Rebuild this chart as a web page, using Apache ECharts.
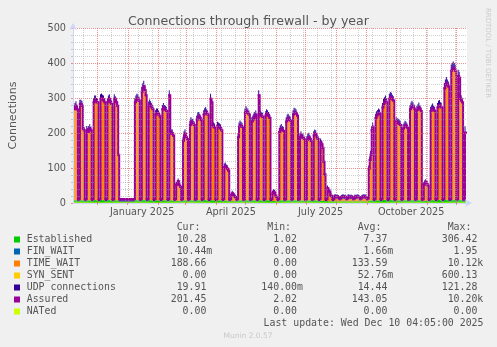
<!DOCTYPE html>
<html>
<head>
<meta charset="utf-8">
<script src="https://cdn.jsdelivr.net/npm/echarts@6.0.0/dist/echarts.min.js"></script>
<style>
html,body{margin:0;padding:0;background:#f0f0f0;overflow:hidden;}
#chart{width:497px;height:347px;}
</style>
</head>
<body>
<div id="chart"></div>
<script>
// ---------------- data (one value per day) ----------------
const established = [
8,9,8,8,4,4,
8,8,9,8,7,4,4, 7,8,8,8,7,4,4, 8,9,9,8,8,4,4, 9,9,8,9,8,4,4, 8,9,9,8,8,4,4, 9,8,8,8,7,4,4,
4,4,4,4,4,4,4, 4,4,4,4,4,4,4,
8,9,9,8,8,4,4, 9,9,10,9,8,4,4, 8,9,8,8,8,4,4, 8,8,8,8,7,4,4, 8,8,8,8,8,4,4, 9,8,8,8,7,4,4,
6,6,6,6,6,4,4, 7,8,8,8,7,4,4, 8,8,8,8,8,4,4, 8,8,8,8,8,4,4, 8,9,9,8,8,4,4, 9,8,8,8,8,4,4,
8,8,8,8,7,4,4, 7,7,7,7,6,4,4, 6,6,6,5,5,4,4, 7,8,8,8,8,4,4, 8,9,8,8,8,4,4, 8,8,8,8,8,4,4,
9,8,8,8,8,4,4, 8,8,8,8,8,4,4, 6,6,6,5,5,4,4, 8,8,8,8,8,4,4, 8,8,8,8,8,4,4, 8,8,8,8,8,4,4,
7,8,7,7,7,4,4, 7,7,8,7,7,4,4, 8,8,8,7,7,4,4, 7,7,7,6,6,4,4, 6,5,5,5,5,4,4,
5,5,5,5,5,4,4, 5,5,5,5,5,4,4, 5,5,5,5,5,4,4, 5,5,5,5,5,4,4, 5,5,5,5,5,4,4,
6,7,7,8,8,4,4, 8,8,8,8,8,4,4, 8,9,9,9,8,4,4, 9,9,9,8,8,4,4, 8,8,8,8,8,4,4, 8,8,8,8,8,4,4,
8,9,9,8,8,4,4, 8,8,9,8,8,4,4, 6,6,6,6,6,4,4, 8,8,9,8,8,4,4, 8,9,9,8,8,4,4, 9,9,10,9,9,4,4,
10,10,10,10,9,4,4, 10,10,9,9,8,4,4,
10];

const timeWait = [
258,263,268,258,1,1,
273,273,268,203,198,1,1, 198,193,198,203,198,1,1, 278,283,283,278,278,1,1, 288,290,286,283,278,1,1,
278,283,288,278,273,1,1, 288,283,278,268,128,0,0,
0,0,0,0,0,0,0, 0,0,0,0,0,0,0,
278,283,288,288,283,1,1, 308,318,323,313,298,1,1, 268,273,268,263,258,1,1, 243,248,248,243,238,1,1,
258,263,258,256,253,1,1, 298,193,188,188,183,1,1, 42,47,52,42,37,1,1, 168,183,188,178,173,1,1,
213,223,218,218,213,1,1, 228,236,238,233,228,1,1, 243,248,250,246,243,1,1, 288,278,213,208,206,1,1,
210,208,206,203,198,1,1, 93,96,90,88,83,1,1, 12,17,14,10,7,1,1, 178,208,213,210,208,1,1,
248,253,250,246,243,1,1, 223,228,233,238,243,1,1, 298,243,240,238,236,1,1, 240,246,243,238,233,1,1,
17,22,20,12,7,1,1, 193,200,203,198,196,1,1, 223,230,233,228,226,1,1, 243,250,248,246,240,1,1,
178,183,178,176,173,1,1, 170,176,178,173,168,1,1, 183,188,186,178,173,1,1, 163,158,148,108,72,1,1,
32,27,22,12,10,1,1,
7,8,6,7,6,3,3, 6,7,8,6,7,3,3, 8,7,6,7,6,3,3, 7,6,7,8,6,3,3, 6,7,8,7,7,3,3,
88,113,128,198,208,1,1, 233,240,243,248,246,1,1, 263,273,278,283,278,1,1, 288,293,290,286,283,1,1,
223,220,218,216,213,1,1, 203,208,213,210,206,1,1, 258,263,268,266,260,1,1, 256,260,263,258,253,1,1,
42,47,50,44,40,1,1, 253,258,260,256,253,1,1, 263,268,270,266,263,1,1, 318,328,333,328,323,1,1,
368,373,376,373,368,1,1, 353,348,288,283,278,1,1,
189];

const udp = [
14,14,15,14,9,9,
14,14,15,14,13,9,9, 15,14,14,14,13,9,9, 14,15,15,14,13,9,9, 14,14,15,15,13,9,9, 14,15,14,14,13,9,9, 14,14,15,14,13,10,10,
10,10,10,10,10,10,10, 10,10,10,10,10,10,10,
14,15,15,14,13,9,9, 15,15,16,15,14,9,9, 14,14,15,14,13,9,9, 14,14,14,14,13,9,9, 14,15,14,14,13,9,9, 15,14,14,14,13,9,9,
12,12,12,12,12,9,9, 14,14,15,14,13,9,9, 14,14,15,14,13,9,9, 14,15,14,14,13,9,9, 14,14,15,14,13,9,9, 15,14,14,14,13,9,9,
14,14,14,14,13,9,9, 13,13,13,13,12,9,9, 12,12,12,12,12,9,9, 14,14,15,14,13,9,9, 14,15,14,14,13,9,9, 14,14,15,14,13,9,9,
15,14,14,14,13,9,9, 14,14,14,14,13,9,9, 12,12,12,12,12,9,9, 14,14,15,14,13,9,9, 14,15,14,14,13,9,9, 14,14,15,14,13,9,9,
14,14,14,14,13,9,9, 14,14,15,14,13,9,9, 14,14,14,14,13,9,9, 14,14,13,13,12,9,9, 12,12,12,12,12,9,9,
12,12,12,12,12,10,10, 12,12,12,12,12,10,10, 12,12,12,12,12,10,10, 12,12,12,12,12,10,10, 12,12,12,12,12,10,10,
13,13,14,14,14,9,9, 14,14,15,14,13,9,9, 15,15,15,15,14,9,9, 15,15,16,15,14,9,9, 14,14,15,14,13,9,9, 14,14,14,14,13,9,9,
14,15,15,14,14,9,9, 14,14,15,14,13,9,9, 12,12,12,12,12,9,9, 14,15,15,14,14,9,9, 15,15,15,14,14,9,9, 16,16,17,16,15,9,9,
18,18,18,17,17,9,9, 18,17,16,16,15,9,9,
20];

const assured = [
268,273,278,268,11,11,
283,283,278,213,208,11,11, 208,203,208,213,208,11,11, 288,293,293,288,288,11,11, 298,300,296,293,288,11,11,
288,293,298,288,283,11,11, 298,293,288,278,138,11,11,
11,11,11,11,11,11,11, 11,11,11,11,11,11,11,
288,293,298,298,293,11,11, 318,328,333,323,308,11,11, 278,283,278,273,268,11,11, 253,258,258,253,248,11,11,
268,273,268,266,263,11,11, 308,203,198,198,193,11,11, 52,57,62,52,47,11,11, 178,193,198,188,183,11,11,
223,233,228,228,223,11,11, 238,246,248,243,238,11,11, 253,258,260,256,253,11,11, 298,288,223,218,216,11,11,
220,218,216,213,208,11,11, 103,106,100,98,93,11,11, 22,27,24,20,17,11,11, 188,218,223,220,218,11,11,
258,263,260,256,253,11,11, 233,238,243,248,253,11,11, 308,253,250,248,246,11,11, 250,256,253,248,243,11,11,
27,32,30,22,17,11,11, 203,210,213,208,206,11,11, 233,240,243,238,236,11,11, 253,260,258,256,250,11,11,
188,193,188,186,183,11,11, 180,186,188,183,178,11,11, 193,198,196,188,183,11,11, 173,168,158,118,82,11,11,
42,37,32,22,20,11,11,
18,18,17,18,17,13,13, 17,18,18,17,18,13,13, 18,18,17,17,18,13,13, 18,17,18,18,17,13,13, 17,18,18,18,17,13,13,
98,123,138,208,218,11,11, 243,250,253,258,256,11,11, 273,283,288,293,288,11,11, 298,303,300,296,293,11,11,
233,230,228,226,223,11,11, 213,218,223,220,216,11,11, 268,273,278,276,270,11,11, 266,270,273,268,263,11,11,
52,57,60,54,50,11,11, 263,268,270,266,263,11,11, 273,278,280,276,273,11,11, 328,338,343,338,333,11,11,
378,383,386,383,378,11,11, 363,358,298,293,288,11,11,
201];

// NATed: 0.00 for the whole year (min = avg = max = 0.00)
const nated = Array(assured.length).fill(0);

// legend table
const legendNames  = ['Established','FIN_WAIT','TIME_WAIT','SYN_SENT','UDP connections','Assured','NATed'];
const legendColors = ['#00CC00','#0066B3','#FF8000','#FFCC00','#330099','#990099','#CCFF00'];
const curValues = ['10.28','10.44m','188.66','0.00','19.91','201.45','0.00'];
const minValues = ['1.02','0.00','0.00','0.00','140.00m','2.02','0.00'];
const avgValues = ['7.37','1.66m','133.59','52.76m','14.44','143.05','0.00'];
const maxValues = ['306.42','1.95','10.12k','600.13','121.28','10.20k','0.00'];
const columnHeaders = ['Cur:','Min:','Avg:','Max:'];

const titleText = 'Connections through firewall - by year';
const yAxisName = 'Connections';
const lastUpdate = 'Last update: Wed Dec 10 04:05:00 2025';
const yTickLabels = [0,100,200,300,400,500];
const xLabelTexts = ['January 2025','April 2025','July 2025','October 2025'];

// ---------------- axis geometry ----------------
const DAY = 86400000;
const SPAN = 400;
const START = Date.UTC(2024,10,6,16,48);
const END = START + SPAN*DAY;
const toDays = t => (t - START) / DAY;
const xLabelAt = [Date.UTC(2025,0,16), Date.UTC(2025,3,16), Date.UTC(2025,6,16), Date.UTC(2025,9,16)];
const monthStarts = [];
for (let y = 2024, m = 11; ; ) {
  const t = Date.UTC(y, m, 1);
  if (t > END) break;
  if (t >= START) monthStarts.push(t);
  m++; if (m > 11) { m = 0; y++; }
}
const minorLines = [];
for (let t = Date.UTC(2024,10,17); t <= END; t += 14*DAY) {
  if (!monthStarts.some(ms => Math.abs(ms - t) < DAY/2)) minorLines.push(t);
}
const yMax = yTickLabels[yTickLabels.length - 1];
const yMajor = yTickLabels.slice(1);
const yMinor = [];
for (let v = 20; v < yMax; v += 20) if (v % 100 !== 0) yMinor.push(v);
const dayTime = j => START + (j + 0.5) * DAY;

const FONT = 'DejaVu Sans';
const MONO = 'DejaVu Sans Mono';
const TXT = '#555555';
const MAJOR = 'rgba(225,100,100,0.7)';
const MINOR = 'rgba(160,160,160,0.5)';

// stacked AREA/STACK drawn as one-pixel day columns (as rrdtool does)
function stackSeries(name, values, color) {
  return {
    name, type: 'bar', stack: 'conn', barWidth: 1, barGap: '-100%',
    data: values.map((v, j) => [dayTime(j), v]),
    itemStyle: { color, borderWidth: 0 },
    z: 3, silent: true, animation: false, large: false
  };
}
// LINE2 drawn as a step line through the day columns: [time, value, next value]
// (strokes centred on pixel centres, like rrdtool's anti-aliased LINE2)
function stepLineSeries(name, values, color, width, z) {
  return {
    name, type: 'custom', coordinateSystem: 'cartesian2d', silent: true, animation: false, z,
    data: values.map((v, j) => [dayTime(j), v, j + 1 < values.length ? values[j + 1] : v]),
    encode: { x: 0, y: 1 },
    dimensions: ['t', 'v', 'next'],
    renderItem: (params, api) => {
      const t = api.value(0);
      const p = api.coord([t, api.value(1)]);
      const pn = api.coord([t, api.value(2)]);
      const hw = api.size([DAY, 0])[0] / 2;
      const ox = 0.5;
      const pts = [[p[0] - hw + ox, p[1]], [p[0] + hw + ox, p[1]], [p[0] + hw + ox, pn[1]]];
      return { type: 'polyline', shape: { points: pts }, style: { stroke: color, lineWidth: width, fill: null, lineJoin: 'miter', lineCap: 'square' } };
    }
  };
}
// dotted grid drawn over the data, as rrdtool does
function gridLineSeries(items, color) {
  return {
    type: 'line', data: [], z: 10, silent: true, animation: false,
    markLine: {
      silent: true, symbol: ['none','none'], label: { show: false }, animation: false, z: 10,
      lineStyle: { color, width: 1, type: [1,1] },
      emphasis: { disabled: true },
      data: items
    }
  };
}

// legend graphic
const CW = 5.96;
const fieldStart = [170.7, 261.3, 351.7, 441.7];
function fmt(s) {
  const m = s.match(/^([\d.]+)([a-z]?)$/);
  return m[1].padStart(6, ' ') + m[2];
}
const graphics = [];
const rowY0 = 239.5, rowH = 12;
columnHeaders.forEach((h, c) => graphics.push({
  type: 'text', x: fieldStart[c] + CW, y: rowY0 - rowH,
  style: { text: h, font: `9.9px "${MONO}"`, fill: TXT, align: 'left', verticalAlign: 'middle' }
}));
legendNames.forEach((n, r) => {
  const y = rowY0 + r * rowH;
  graphics.push({ type: 'rect', shape: { x: 14, y: y - 3, width: 6, height: 6 }, style: { fill: legendColors[r] } });
  graphics.push({ type: 'text', x: 26.7, y, style: { text: n, font: `9.9px "${MONO}"`, fill: TXT, align: 'left', verticalAlign: 'middle' } });
  [curValues, minValues, avgValues, maxValues].forEach((arr, c) => {
    graphics.push({ type: 'text', x: fieldStart[c], y, style: { text: fmt(arr[r]), font: `9.9px "${MONO}"`, fill: TXT, align: 'left', verticalAlign: 'middle' } });
  });
});
graphics.push({ type: 'text', x: 483.5, y: rowY0 + 7 * rowH, style: { text: lastUpdate, font: `9.9px "${MONO}"`, fill: TXT, align: 'right', verticalAlign: 'middle' } });
graphics.push({ type: 'text', x: 248, y: 336, style: { text: 'Munin 2.0.57', font: `7.5px "${FONT}"`, fill: '#c8c8c8', align: 'center', verticalAlign: 'middle' } });
graphics.push({ type: 'text', x: 488, y: 53, rotation: -Math.PI / 2, style: { text: 'RRDTOOL / TOBI OETIKER', font: `7px "${FONT}"`, fill: '#cccccc', align: 'center', verticalAlign: 'middle' } });

const chart = echarts.init(document.getElementById('chart'), null, { renderer: 'canvas' });
chart.setOption({
  animation: false,
  backgroundColor: '#f0f0f0',
  title: {
    text: titleText, left: 'center', top: 10,
    textStyle: { fontFamily: FONT, fontSize: 12.6, fontWeight: 'normal', color: TXT }
  },
  grid: { left: 67, right: 30, top: 28, bottom: 144, show: true, backgroundColor: '#ffffff', borderWidth: 0 },
  xAxis: [
    { // data axis (time), hidden
      type: 'time', min: START, max: END, position: 'bottom', show: false
    },
    { // visible axis in days since the graph start: ticks and labels
      type: 'value', min: 0, max: SPAN, position: 'bottom', z: 11,
      axisLine: { show: true, onZero: false, lineStyle: { color: '#CFD6F8', width: 1 }, symbol: ['none','arrow'], symbolSize: [6,7], symbolOffset: [0,5] },
      axisTick: { show: true, customValues: monthStarts.map(toDays), length: 2, lineStyle: { color: MAJOR } },
      axisLabel: {
        customValues: xLabelAt.map(toDays), margin: 4,
        fontFamily: FONT, fontSize: 9.7, color: TXT,
        formatter: (v) => {
          let best = 0;
          xLabelAt.forEach((t, i) => { if (Math.abs(toDays(t) - v) < Math.abs(toDays(xLabelAt[best]) - v)) best = i; });
          return xLabelTexts[best];
        }
      },
      splitLine: { show: false }
    }
  ],
  yAxis: {
    type: 'value', min: yTickLabels[0], max: yMax, interval: 100, z: 11,
    name: yAxisName, nameLocation: 'middle', nameGap: 54,
    nameTextStyle: { fontFamily: FONT, fontSize: 11, color: TXT },
    axisLine: { show: true, lineStyle: { color: '#CFD6F8', width: 1 }, symbol: ['none','arrow'], symbolSize: [6,7], symbolOffset: [0,5] },
    axisTick: { show: true, length: 2, lineStyle: { color: MAJOR } },
    minorTick: { show: true, length: 2, splitNumber: 5, lineStyle: { color: MINOR } },
    axisLabel: { fontFamily: FONT, fontSize: 9.7, color: TXT, margin: 7 },
    splitLine: { show: false },
    minorSplitLine: { show: false }
  },
  series: [
    stackSeries(legendNames[0], established, legendColors[0]),
    stackSeries(legendNames[2], timeWait, legendColors[2]),
    stackSeries(legendNames[4], udp, legendColors[4]),
    stepLineSeries(legendNames[5], assured, legendColors[5], 2, 4),
    {
      name: legendNames[6], type: 'line', symbol: 'none', showSymbol: false,
      data: nated.map((v, j) => [dayTime(j), v]),
      lineStyle: { width: 1, color: legendColors[6] }, itemStyle: { color: legendColors[6] },
      z: 5, silent: true, animation: false
    },
    gridLineSeries(minorLines.map(t => ({ xAxis: t })).concat(yMinor.map(v => ({ yAxis: v }))), MINOR),
    gridLineSeries(monthStarts.map(t => ({ xAxis: t })).concat(yMajor.map(v => ({ yAxis: v }))), MAJOR)
  ],
  graphic: graphics
});
</script>
</body>
</html>
